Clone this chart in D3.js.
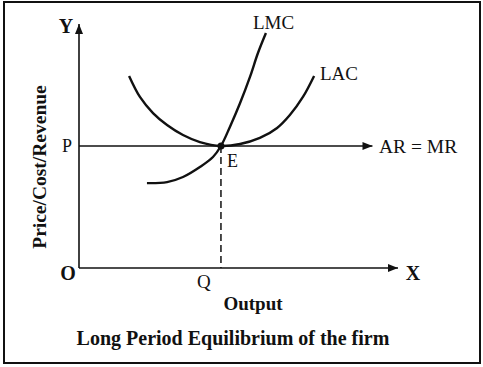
<!DOCTYPE html>
<html>
<head>
<meta charset="utf-8">
<script src="https://cdn.jsdelivr.net/npm/d3@7"></script>
<style>
  body { margin: 0; background: #fff; }
  text { font-family: "Liberation Serif", "Times New Roman", serif; fill: #111; }
</style>
</head>
<body>
<div id="chart"></div>
<script>
// curve data (abstract units, 0..100 on both axes)
var lacX = [15.7, 19.1, 23.2, 27.6, 32.6, 37.9, 44.5, 50.5, 56.7, 62.1, 66.1, 70.2, 73.7];
var lacY = [78.7, 70.1, 63.5, 58.6, 54.5, 51.6, 50.0, 50.8, 53.3, 57.4, 62.7, 70.1, 78.7];
var lmcX = [21.3, 27.6, 32.6, 37.9, 42.0, 44.5, 47.3, 50.5, 53.6, 56.1, 58.6];
var lmcY = [34.8, 35.2, 37.3, 41.4, 45.5, 50.0, 57.8, 67.6, 78.3, 88.1, 96.3];
var priceP = 50;      // AR = MR level
var outputQ = 44.5;   // equilibrium output
var arEnd = 92;       // where the AR = MR arrow stops

var W = 483, H = 367;
var x = d3.scaleLinear().domain([0, 100]).range([79, 398]);
var y = d3.scaleLinear().domain([0, 100]).range([268, 24]);

var svg = d3.select("#chart").append("svg")
    .attr("width", W)
    .attr("height", H);

// arrow head
svg.append("defs").append("marker")
    .attr("id", "arrow")
    .attr("viewBox", "0 0 10 10")
    .attr("refX", 10).attr("refY", 5)
    .attr("markerWidth", 10).attr("markerHeight", 10)
    .attr("markerUnits", "userSpaceOnUse")
    .attr("orient", "auto")
    .append("path")
    .attr("d", "M0,1 L10,5 L0,9 Z")
    .attr("fill", "#111");

// frame
svg.append("rect")
    .attr("x", 4).attr("y", 2)
    .attr("width", 476).attr("height", 361)
    .attr("fill", "none")
    .attr("stroke", "#111")
    .attr("stroke-width", 2);

// axes
svg.append("line")
    .attr("x1", x(0)).attr("y1", y(0))
    .attr("x2", x(0)).attr("y2", y(100))
    .attr("stroke", "#111").attr("stroke-width", 1.6)
    .attr("marker-end", "url(#arrow)");
svg.append("line")
    .attr("x1", x(0)).attr("y1", y(0))
    .attr("x2", x(100)).attr("y2", y(0))
    .attr("stroke", "#111").attr("stroke-width", 1.6)
    .attr("marker-end", "url(#arrow)");

// AR = MR line
svg.append("line")
    .attr("x1", x(0)).attr("y1", y(priceP))
    .attr("x2", x(arEnd)).attr("y2", y(priceP))
    .attr("stroke", "#111").attr("stroke-width", 1.6)
    .attr("marker-end", "url(#arrow)");

// dashed drop line
svg.append("line")
    .attr("x1", x(outputQ)).attr("y1", y(priceP))
    .attr("x2", x(outputQ)).attr("y2", y(0))
    .attr("stroke", "#111").attr("stroke-width", 1.5)
    .attr("stroke-dasharray", "7,4");

var line = d3.line()
    .x(function(d) { return x(d[0]); })
    .y(function(d) { return y(d[1]); })
    .curve(d3.curveCatmullRom);

svg.append("path")
    .datum(d3.zip(lacX, lacY))
    .attr("d", line)
    .attr("fill", "none").attr("stroke", "#111").attr("stroke-width", 2.4);

svg.append("path")
    .datum(d3.zip(lmcX, lmcY))
    .attr("d", line)
    .attr("fill", "none").attr("stroke", "#111").attr("stroke-width", 2.4);

// point E
svg.append("circle")
    .attr("cx", x(outputQ)).attr("cy", y(priceP))
    .attr("r", 3.5).attr("fill", "#111");

// labels
function label(t, px, py, opts) {
    opts = opts || {};
    return svg.append("text")
        .attr("x", px).attr("y", py)
        .attr("text-anchor", opts.anchor || "start")
        .attr("font-size", opts.size || 19)
        .attr("font-weight", opts.bold ? "bold" : "normal")
        .text(t);
}

label("Y", 66, 33, {anchor: "middle", size: 20, bold: true});
label("O", 68, 280, {anchor: "middle", size: 20, bold: true});
label("X", 413, 280, {anchor: "middle", size: 20, bold: true});
label("Q", x(outputQ) - 17, 288, {anchor: "middle", size: 19});
label("P", 67, 152, {anchor: "middle", size: 18});
label("E", x(outputQ) + 6, 167, {size: 18});
label("AR = MR", 379, 153, {size: 19.5});
label("LMC", 253, 29, {size: 19});
label("LAC", 320, 80, {size: 19});
label("Output", 253, 310, {anchor: "middle", size: 19, bold: true});
label("Long Period Equilibrium of the firm", 233, 345, {anchor: "middle", size: 20, bold: true});

svg.append("text")
    .attr("transform", "translate(46,167) rotate(-90)")
    .attr("text-anchor", "middle")
    .attr("font-size", 19.5)
    .attr("font-weight", "bold")
    .text("Price/Cost/Revenue");
</script>
</body>
</html>
